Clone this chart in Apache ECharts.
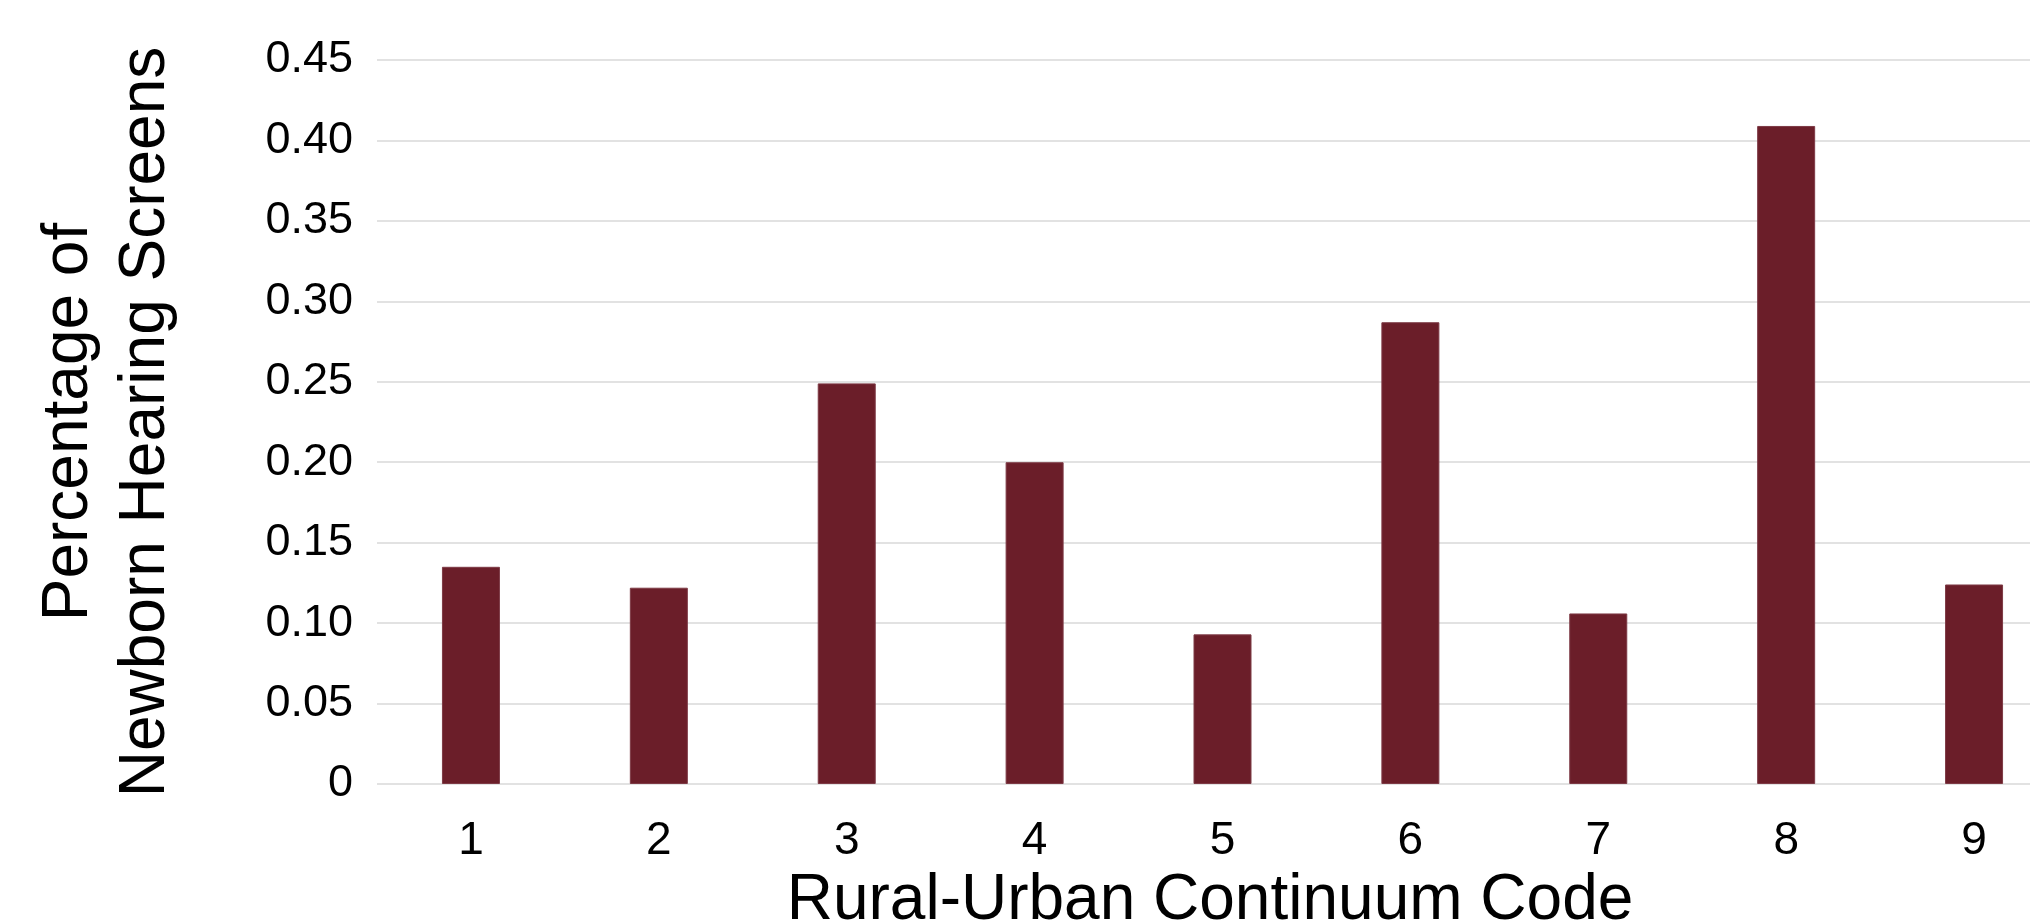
<!DOCTYPE html>
<html>
<head>
<meta charset="utf-8">
<script src="https://cdn.jsdelivr.net/npm/echarts@6/dist/echarts.min.js"></script>
<style>
  html, body { margin: 0; padding: 0; background: #ffffff; }
  #chart { width: 2030px; height: 921px; }
</style>
</head>
<body>
<div id="chart"></div>
<script>
var codes = ["1", "2", "3", "4", "5", "6", "7", "8", "9"];
var screenPct = [0.135, 0.122, 0.249, 0.200, 0.093, 0.287, 0.106, 0.409, 0.124];
var yTicks = { min: 0, max: 0.45, step: 0.05 };

var font = "'Liberation Sans', Arial, sans-serif";
var chart = echarts.init(document.getElementById("chart"));

chart.setOption({
  backgroundColor: "#ffffff",
  animation: false,
  grid: {
    left: 377,
    top: 60,
    width: 1691,
    height: 724,
    outerBoundsMode: "none",
    containLabel: false
  },
  xAxis: {
    type: "category",
    data: codes,
    name: "Rural-Urban Continuum Code",
    nameLocation: "middle",
    nameGap: 81,
    nameTextStyle: {
      fontSize: 64,
      fontFamily: font,
      color: "#000000",
      padding: [0, 25, 0, 0]
    },
    axisLine: { show: false },
    axisTick: { show: false },
    axisLabel: {
      fontSize: 46,
      fontFamily: font,
      color: "#000000",
      margin: 34
    }
  },
  yAxis: {
    type: "value",
    min: yTicks.min,
    max: yTicks.max,
    interval: yTicks.step,
    name: "Percentage of\nNewborn Hearing Screens",
    nameLocation: "middle",
    nameRotate: 90,
    nameGap: 192,
    nameTextStyle: {
      fontSize: 64,
      lineHeight: 77,
      fontFamily: font,
      color: "#000000",
      align: "center"
    },
    axisLine: { show: false },
    axisTick: { show: false },
    splitLine: {
      show: true,
      lineStyle: { color: "#d9d9d9", width: 1.5 }
    },
    axisLabel: {
      fontSize: 45,
      fontFamily: font,
      color: "#000000",
      margin: 24,
      padding: [0, 0, 10, 0],
      formatter: function (v) {
        return v === 0 ? "0" : v.toFixed(2);
      }
    }
  },
  series: [
    {
      type: "bar",
      data: screenPct,
      barWidth: 58,
      itemStyle: {
        color: "#6b1e29",
        borderColor: "#7d3a45",
        borderWidth: 1
      }
    }
  ]
});
</script>
</body>
</html>
